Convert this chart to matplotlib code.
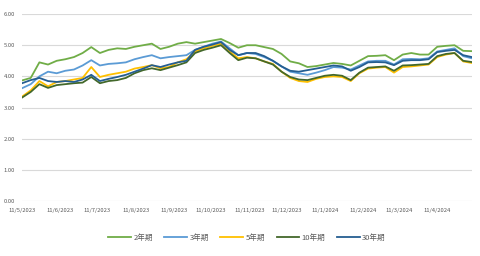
import matplotlib
matplotlib.use("Agg")
import matplotlib.pyplot as plt
import pandas as pd

plt.rcParams['font.family'] = ['Noto Sans CJK SC', 'DejaVu Sans']

# weekly readings, 11 May 2023 .. 9 May 2024
dates = pd.date_range("2023-05-11", periods=53, freq="7D")

y2 = [3.87, 3.95, 4.45, 4.38, 4.50, 4.55, 4.62, 4.75, 4.94, 4.75,
      4.85, 4.90, 4.88, 4.95, 5.00, 5.05, 4.88, 4.95, 5.05, 5.10,
      5.05, 5.10, 5.15, 5.20, 5.07, 4.92, 5.00, 5.00, 4.94, 4.88,
      4.72, 4.48, 4.42, 4.30, 4.33, 4.38, 4.43, 4.40, 4.35, 4.50,
      4.65, 4.66, 4.68, 4.52, 4.70, 4.75, 4.70, 4.70, 4.95, 4.98,
      5.00, 4.82, 4.81]
y3 = [3.62, 3.75, 4.00, 4.15, 4.10, 4.18, 4.22, 4.35, 4.52, 4.35,
      4.40, 4.42, 4.45, 4.55, 4.62, 4.68, 4.58, 4.62, 4.65, 4.68,
      4.85, 4.95, 5.05, 5.12, 4.90, 4.68, 4.75, 4.72, 4.62, 4.50,
      4.32, 4.15, 4.10, 4.05, 4.12, 4.20, 4.30, 4.28, 4.22, 4.35,
      4.48, 4.50, 4.50, 4.38, 4.55, 4.56, 4.55, 4.58, 4.80, 4.85,
      4.90, 4.65, 4.58]
y5 = [3.35, 3.55, 3.85, 3.68, 3.82, 3.85, 3.90, 3.95, 4.30, 3.98,
      4.05, 4.10, 4.15, 4.25, 4.30, 4.36, 4.26, 4.30, 4.45, 4.55,
      4.80, 4.90, 4.98, 5.05, 4.80, 4.58, 4.62, 4.58, 4.48, 4.40,
      4.15, 3.95, 3.85, 3.82, 3.92, 3.98, 4.00, 3.98, 3.85, 4.10,
      4.25, 4.28, 4.30, 4.12, 4.30, 4.32, 4.35, 4.38, 4.62, 4.70,
      4.75, 4.48, 4.43]
y10 = [3.32, 3.50, 3.75, 3.63, 3.72, 3.75, 3.78, 3.80, 3.98, 3.78,
       3.85, 3.88, 3.95, 4.10, 4.20, 4.26, 4.20, 4.28, 4.36, 4.45,
       4.75, 4.85, 4.92, 5.00, 4.75, 4.52, 4.60, 4.58, 4.48, 4.38,
       4.15, 3.98, 3.90, 3.88, 3.95, 4.02, 4.05, 4.02, 3.88, 4.12,
       4.28, 4.30, 4.32, 4.18, 4.35, 4.36, 4.38, 4.40, 4.65, 4.72,
       4.75, 4.50, 4.46]
y30 = [3.78, 3.88, 3.95, 3.85, 3.82, 3.85, 3.82, 3.90, 4.05, 3.85,
       3.92, 3.98, 4.05, 4.15, 4.25, 4.36, 4.30, 4.38, 4.45, 4.50,
       4.85, 4.95, 5.02, 5.10, 4.85, 4.68, 4.75, 4.75, 4.65, 4.50,
       4.32, 4.18, 4.15, 4.20, 4.25, 4.30, 4.35, 4.32, 4.18, 4.30,
       4.45, 4.46, 4.45, 4.36, 4.50, 4.52, 4.52, 4.55, 4.78, 4.82,
       4.85, 4.68, 4.62]

labels = ["2年期", "3年期", "5年期", "10年期", "30年期"]
colors = ["#70AD47", "#5B9BD5", "#FFC000", "#43682B", "#255E91"]

fig = plt.figure(figsize=(4.8, 2.56), dpi=100)
ax = fig.add_axes([0.046, 0.215, 0.937, 0.73])

for ys, lab, c in zip([y2, y3, y5, y10, y30], labels, colors):
    ax.plot(dates, ys, color=c, lw=1.3, label=lab)

ax.set_ylim(0, 6)
ax.set_yticks([0, 1, 2, 3, 4, 5, 6])
ax.yaxis.set_major_formatter(plt.FuncFormatter(lambda v, p: f"{v:.2f}"))
ax.set_xlim(dates[0], dates[-1])
ticks = pd.date_range("2023-05-01", "2024-04-01", freq="MS") + pd.Timedelta(days=10)
ax.set_xticks(ticks)
ax.set_xticklabels([f"{d.day}/{d.month}/{d.year}" for d in ticks])
ax.grid(axis="y", color="#D9D9D9", lw=0.8)
ax.set_axisbelow(True)
for s in ax.spines.values():
    s.set_visible(False)
ax.tick_params(length=0, labelsize=4.2, colors="#595959", pad=5)

ax.legend(loc="upper center", bbox_to_anchor=(0.5, -0.14), ncol=5, frameon=False,
          fontsize=5.5, handlelength=3, columnspacing=1.5, handletextpad=0.3,
          labelcolor="#595959")

fig.savefig("out.png", dpi=100)
